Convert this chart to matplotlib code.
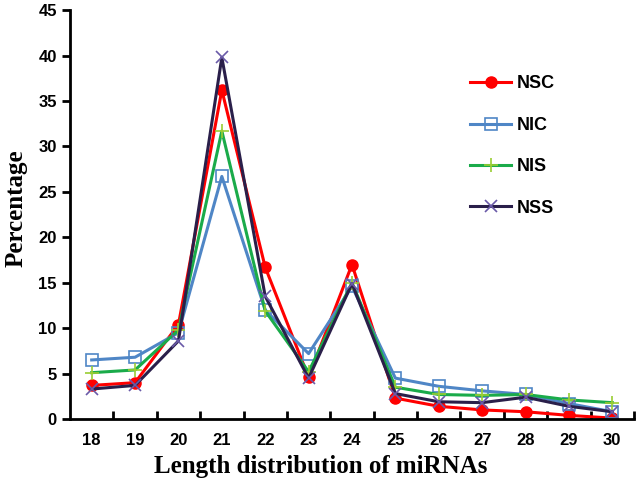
import matplotlib
matplotlib.use("Agg")
import matplotlib.pyplot as plt

lengths = [18, 19, 20, 21, 22, 23, 24, 25, 26, 27, 28, 29, 30]
nsc = [3.7, 4.0, 10.4, 36.2, 16.7, 4.6, 17.0, 2.3, 1.4, 1.0, 0.8, 0.4, 0.1]
nic = [6.5, 6.8, 9.5, 26.7, 12.0, 7.2, 14.6, 4.5, 3.6, 3.1, 2.7, 1.7, 0.8]
nis = [5.1, 5.4, 9.8, 31.7, 11.9, 5.2, 15.0, 3.5, 2.7, 2.6, 2.7, 2.1, 1.8]
nss = [3.3, 3.7, 8.6, 39.8, 13.5, 4.5, 14.9, 2.8, 1.9, 1.8, 2.4, 1.4, 0.8]

series = [
    ("NSC", nsc, "#ff0000", dict(marker="o", markersize=8, markerfacecolor="#ff0000", markeredgecolor="#ff0000")),
    ("NIC", nic, "#4f86c6", dict(marker="s", markersize=8, markerfacecolor="none", markeredgecolor="#4f86c6", markeredgewidth=1.2)),
    ("NIS", nis, "#1aab4a", dict(marker="+", markersize=10, markeredgecolor="#9acd32", markeredgewidth=1.2)),
    ("NSS", nss, "#2a1f4a", dict(marker="x", markersize=8, markeredgecolor="#6a5aa8", markeredgewidth=1.2)),
]

fig = plt.figure(figsize=(6.38, 4.95), dpi=100)
ax = fig.add_axes([0.1097, 0.1535, 0.884, 0.826])

for name, vals, col, mk in series:
    ax.plot(lengths, vals, color=col, linewidth=2.2, label=name, **mk)

ax.set_xlim(17.5, 30.5)
ax.set_ylim(0, 45)
ax.set_yticks(range(0, 46, 5))
ax.set_xticks(lengths)
ax.set_xticks([x + 0.5 for x in lengths[:-1]] + [17.5 + 13], minor=True)

for s in ["top", "right"]:
    ax.spines[s].set_visible(False)
ax.spines["left"].set_linewidth(2)
ax.spines["bottom"].set_linewidth(2)

ax.tick_params(axis="y", direction="out", length=6, width=2, labelsize=12)
ax.tick_params(axis="x", which="major", length=0, pad=10, labelsize=12)
ax.tick_params(axis="x", which="minor", direction="in", length=6, width=2)
for lab in ax.get_xticklabels() + ax.get_yticklabels():
    lab.set_fontweight("bold")
    lab.set_fontfamily("Liberation Sans")

ax.set_xlabel("Length distribution of miRNAs", fontsize=18, fontweight="bold",
              fontfamily="Liberation Serif")
ax.set_ylabel("Percentage", fontsize=18, fontweight="bold",
              fontfamily="Liberation Serif")
ax.xaxis.set_label_coords(0.445, -0.088)
ax.yaxis.set_label_coords(-0.075, 0.515)

leg = ax.legend(loc="upper left", bbox_to_anchor=(0.68, 0.88), frameon=False,
                labelspacing=1.35, handlelength=2.3, handletextpad=0.3,
                prop={"family": "Liberation Sans", "weight": "bold", "size": 13})

plt.savefig("out.png", dpi=100)
plt.close()
